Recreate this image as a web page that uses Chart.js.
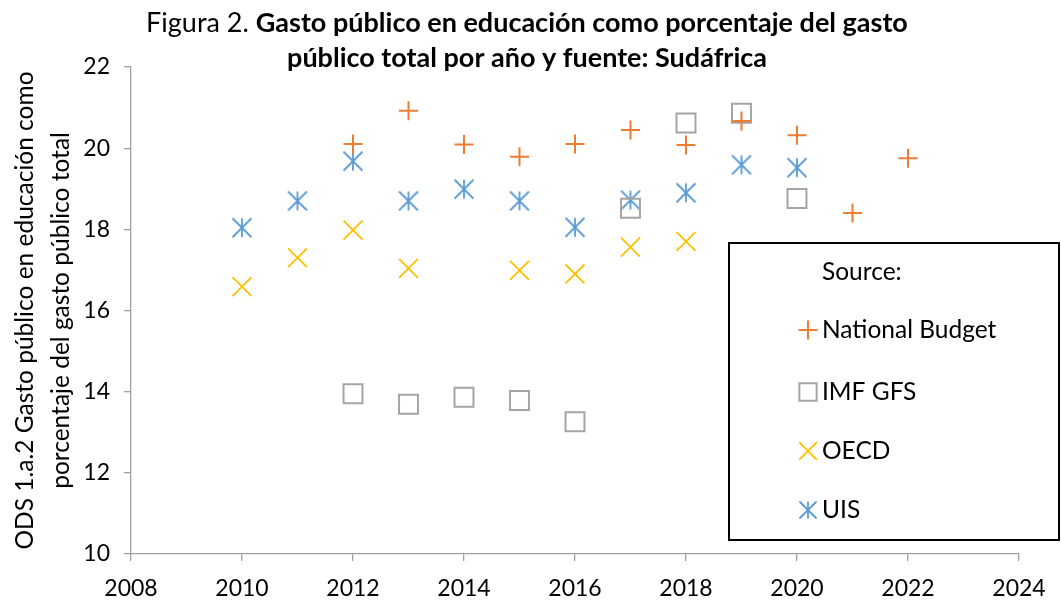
<!DOCTYPE html>
<html>
<head>
<meta charset="utf-8">
<script src="https://cdn.jsdelivr.net/npm/chart.js@4.4.1/dist/chart.umd.min.js"></script>
<style>
  html, body { margin: 0; padding: 0; background: #fff; }
  #wrap { width: 1061px; height: 601px; position: relative; }
</style>
</head>
<body>
<div id="wrap"><canvas id="c" width="1061" height="601"></canvas></div>
<script>
// ---- data ----
const years = [2010, 2011, 2012, 2013, 2014, 2015, 2016, 2017, 2018, 2019, 2020, 2021, 2022];
const nationalBudget = [null, null, 20.10, 20.92, 20.09, 19.79, 20.10, 20.45, 20.08, 20.67, 20.32, 18.40, 19.75];
const imfGfs = [null, null, 13.95, 13.69, 13.86, 13.78, 13.26, 18.52, 20.62, 20.86, 18.76, null, null];
const oecd = [16.59, 17.30, 17.98, 17.04, null, 16.99, 16.90, 17.56, 17.70, null, null, null, null];
const uis = [18.04, 18.70, 19.68, 18.70, 18.99, 18.70, 18.05, 18.72, 18.90, 19.59, 19.52, null, null];
const seriesNames = ['National Budget', 'IMF GFS', 'OECD', 'UIS'];
const xTicks = [2008, 2010, 2012, 2014, 2016, 2018, 2020, 2022, 2024];
const yTicks = [10, 12, 14, 16, 18, 20, 22];
const titleNormal = 'Figura 2. ';
const titleBold1 = 'Gasto público en educación como porcentaje del gasto';
const titleBold2 = 'público total por año y fuente: Sudáfrica';
const yTitle = ['ODS 1.a.2 Gasto público en educación como', 'porcentaje del gasto público total'];
const legendHeading = 'Source:';

const COLORS = ['#ED7D31', '#A5A5A5', '#FFC000', '#5B9BD5'];
const FONT = 'Lato';

function toPoints(arr) {
  const out = [];
  arr.forEach((v, i) => { if (v !== null) out.push({ x: years[i], y: v }); });
  return out;
}

// asterisk (6-arm) marker image
function makeAsterisk(color, s) {
  const cv = document.createElement('canvas');
  cv.width = s; cv.height = s;
  const g = cv.getContext('2d');
  g.strokeStyle = color; g.lineWidth = 1.8;
  g.beginPath();
  g.moveTo(s / 2, 1.5); g.lineTo(s / 2, s - 1.5);
  g.moveTo(1.5, 1.5); g.lineTo(s - 1.5, s - 1.5);
  g.moveTo(s - 1.5, 1.5); g.lineTo(1.5, s - 1.5);
  g.stroke();
  return cv;
}
const asterisk = makeAsterisk(COLORS[3], 22);
const asteriskSmall = makeAsterisk(COLORS[3], 20);

const pointCfg = [
  { pointStyle: 'cross', radius: 9.5, borderWidth: 2 },
  { pointStyle: 'rect', radius: 13.4, borderWidth: 2 },
  { pointStyle: 'crossRot', radius: 13.4, borderWidth: 1.8 },
  { pointStyle: asterisk, radius: 11, borderWidth: 1.8 }
];
const legendRadius = [9.5, 12.2, 12.5, 10];
const allSeries = [nationalBudget, imfGfs, oecd, uis];

const datasets = allSeries.map((arr, i) => ({
  label: seriesNames[i],
  data: toPoints(arr),
  showLine: false,
  borderColor: COLORS[i],
  backgroundColor: 'rgba(0,0,0,0)',
  pointStyle: pointCfg[i].pointStyle,
  pointRadius: pointCfg[i].radius,
  pointBorderWidth: pointCfg[i].borderWidth,
  pointBackgroundColor: 'rgba(0,0,0,0)',
  pointBorderColor: COLORS[i]
}));

const titlePlugin = {
  id: 'mixedTitle',
  afterDraw(chart) {
    const ctx = chart.ctx;
    ctx.save();
    ctx.fillStyle = '#000';
    ctx.textBaseline = 'alphabetic';
    ctx.textAlign = 'left';
    const size = 27;
    const fN = `normal ${size}px ${FONT}`;
    const fB = `bold ${size}px ${FONT}`;
    ctx.font = fN; const w1 = ctx.measureText(titleNormal).width;
    ctx.font = fB; const w2 = ctx.measureText(titleBold1).width;
    const cx = 527;
    let x = cx - (w1 + w2) / 2;
    ctx.font = fN; ctx.fillText(titleNormal, x, 32);
    ctx.font = fB; ctx.fillText(titleBold1, x + w1, 32);
    ctx.textAlign = 'center';
    ctx.fillText(titleBold2, cx, 67);
    ctx.restore();
  }
};

const legendPlugin = {
  id: 'boxLegend',
  afterDraw(chart) {
    const ctx = chart.ctx;
    ctx.save();
    ctx.fillStyle = '#fff';
    ctx.fillRect(728, 242, 332, 299);
    ctx.strokeStyle = '#000';
    ctx.lineWidth = 2;
    ctx.strokeRect(729, 243, 330, 297);
    ctx.fillStyle = '#000';
    ctx.font = `24.5px ${FONT}`;
    ctx.textBaseline = 'middle';
    ctx.textAlign = 'left';
    ctx.fillText(legendHeading, 822, 272);
    const ys = [330, 392, 451, 510];
    seriesNames.forEach((name, i) => {
      const cfg = pointCfg[i];
      ctx.strokeStyle = COLORS[i];
      ctx.fillStyle = 'rgba(0,0,0,0)';
      ctx.lineWidth = cfg.borderWidth;
      if (typeof cfg.pointStyle === 'string') {
        Chart.helpers.drawPoint(ctx, { pointStyle: cfg.pointStyle, radius: legendRadius[i], rotation: 0, borderWidth: cfg.borderWidth }, 808, ys[i]);
      } else {
        ctx.drawImage(asteriskSmall, 808 - 10, ys[i] - 10);
      }
      ctx.fillStyle = '#000';
      ctx.fillText(name, 822, ys[i]);
    });
    ctx.restore();
  }
};

new Chart(document.getElementById('c'), {
  type: 'scatter',
  data: { datasets },
  options: {
    responsive: false,
    animation: false,
    devicePixelRatio: 1,
    layout: { padding: { top: 67, right: 42, bottom: 0, left: 0 } },
    plugins: { legend: { display: false }, tooltip: { enabled: false }, title: { display: false } },
    scales: {
      x: {
        type: 'linear',
        min: xTicks[0], max: xTicks[xTicks.length - 1],
        afterBuildTicks: (s) => { s.ticks = xTicks.map(v => ({ value: v })); },
        ticks: { callback: (v) => String(v), color: '#000', font: { family: FONT, size: 23 }, padding: 14, maxRotation: 0, autoSkip: false },
        grid: { drawOnChartArea: false, drawTicks: true, tickLength: 7, color: '#A0A0A0', lineWidth: 1.3 },
        border: { display: true, color: '#A0A0A0', width: 1.3 },
        afterFit: (s) => { s.height = 47; }
      },
      y: {
        min: yTicks[0], max: yTicks[yTicks.length - 1],
        afterBuildTicks: (s) => { s.ticks = yTicks.map(v => ({ value: v })); },
        ticks: { color: '#000', font: { family: FONT, size: 23 }, padding: 14, autoSkip: false },
        grid: { drawOnChartArea: false, drawTicks: true, tickLength: 7, color: '#A0A0A0', lineWidth: 1.3 },
        border: { display: true, color: '#A0A0A0', width: 1.3 },
        title: { display: true, text: yTitle, color: '#000', font: { family: FONT, size: 24.5, lineHeight: 1.47 }, padding: { top: 7, bottom: 0 } },
        afterFit: (s) => { s.width = 131; }
      }
    }
  },
  plugins: [titlePlugin, legendPlugin]
});
</script>
</body>
</html>
